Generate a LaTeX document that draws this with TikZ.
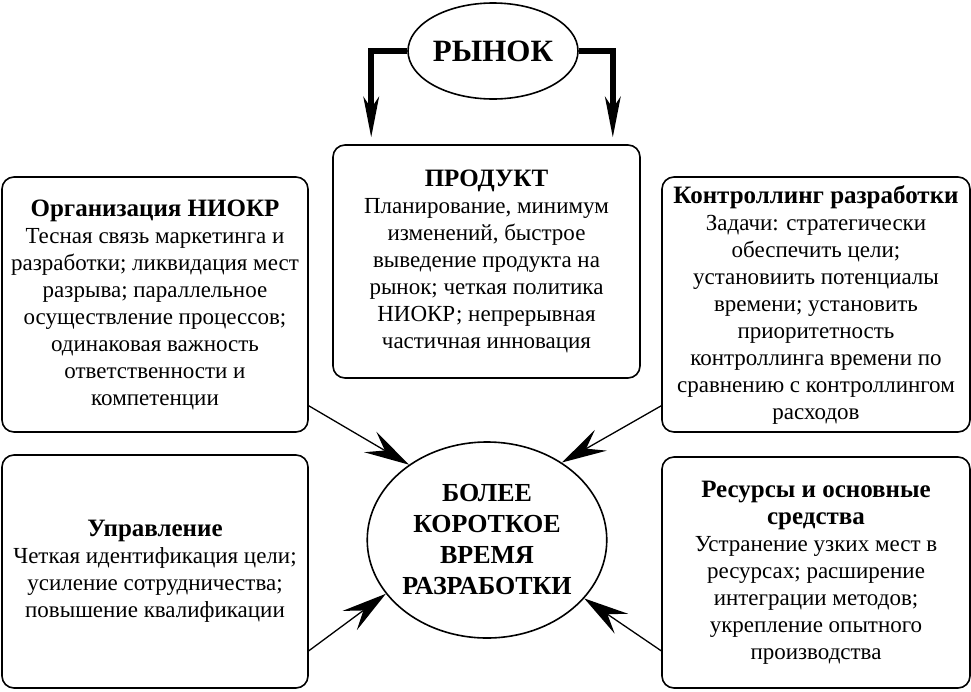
\documentclass[tikz,border=0pt]{standalone}
\usepackage{fontspec}
\setmainfont{Liberation Serif}
\usetikzlibrary{positioning,arrows.meta,shapes.geometric}
\tikzset{
  box/.style={draw,line width=1.6pt,rounded corners=12pt,align=center,inner sep=0pt,
    font=\fontsize{23}{27}\selectfont},
  oval/.style={draw,line width=1.6pt,ellipse,inner sep=0pt,align=center},
  feed/.style={line width=1.3pt,-{Stealth[length=45pt,width=24pt,inset=17pt,line width=0pt]}},
  mkt/.style={line width=6pt,-{Stealth[length=41pt,width=16pt,inset=12pt,line width=0pt]},shorten >=7pt}
}
\newcommand{\hd}[1]{{\fontsize{25}{27}\selectfont\bfseries #1}}
\begin{document}
\begin{tikzpicture}[x=1pt,y=-1pt]
\useasboundingbox (0,0) rectangle (971,691);
% Market and product
\node[oval,minimum width=170pt,minimum height=96pt,font=\fontsize{31}{36}\selectfont\bfseries] (market) at (493,51) {РЫНОК};
\node[box,minimum width=307pt,minimum height=233pt] (prod) at (486.5,261.5)
  {\hd{ПРОДУКТ}\\ Планирование, минимум\\ изменений, быстрое\\
   выведение продукта на\\ рынок; четкая политика\\ НИОКР; непрерывная\\ частичная инновация};
\draw[mkt] (market.west) -| ([xshift=39pt]prod.north west);
\draw[mkt] (market.east) -| ([xshift=-28pt]prod.north east);

% Goal
\node[oval,minimum width=234pt,minimum height=196pt,font=\fontsize{26}{31}\selectfont\bfseries] (goal) at (487,540)
  {БОЛЕЕ\\ КОРОТКОЕ\\ ВРЕМЯ\\ РАЗРАБОТКИ};

% Factors
\node[box,minimum width=306pt,minimum height=255pt] (org) at (155,304.5)
  {\hd{Организация НИОКР}\\ Тесная связь маркетинга и\\ разработки; ликвидация мест\\ разрыва; параллельное\\
   осуществление процессов;\\ одинаковая важность\\ ответственности и\\ компетенции};
\node[box,minimum width=308pt,minimum height=255pt] (ctrl) at (816,304.5)
  {\hd{Контроллинг разработки}\\ Задачи: стратегически\\ обеспечить цели;\\ установиить потенциалы\\
   времени; установить\\ приоритетность\\ контроллинга времени по\\ сравнению с контроллингом\\ расходов};
\node[box,minimum width=306pt,minimum height=233pt] (mgmt) at (155,571.5)
  {\hd{Управление}\\ Четкая идентификация цели;\\ усиление сотрудничества;\\ повышение квалификации};
\node[box,minimum width=308pt,minimum height=231pt] (res) at (816,572.5)
  {\hd{Ресурсы и основные}\\ \hd{средства}\\ Устранение узких мест в\\ ресурсах; расширение\\
   интеграции методов;\\ укрепление опытного\\ производства};

\draw[feed] ([yshift=27pt]org.south east) -- (goal.136);
\draw[feed] ([yshift=27pt]ctrl.south west) -- (goal.46);
\draw[feed] ([yshift=38pt]mgmt.south east) -- (goal.208);
\draw[feed] ([yshift=38pt]res.south west) -- (goal.329);
\end{tikzpicture}
\end{document}
